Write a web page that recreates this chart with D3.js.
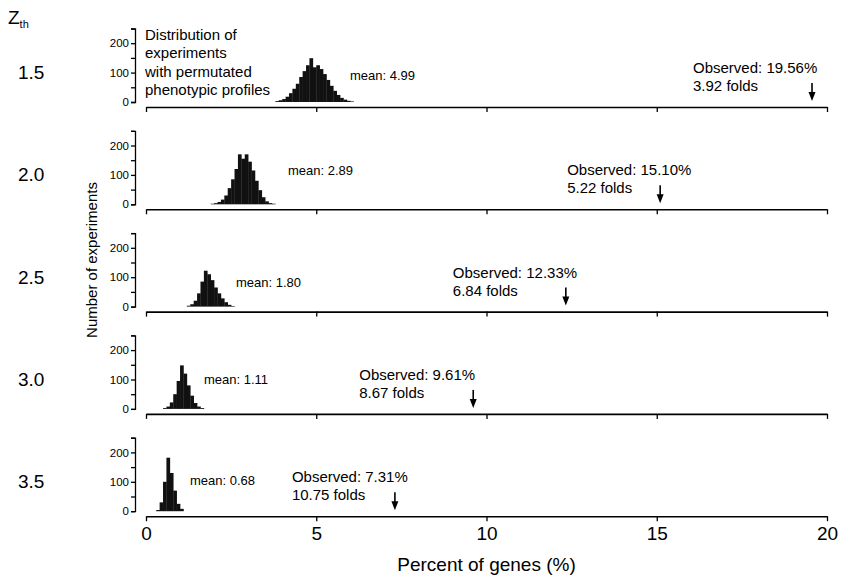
<!DOCTYPE html>
<html>
<head>
<meta charset="utf-8">
<script src="https://cdn.jsdelivr.net/npm/d3@7"></script>
<style>
  body { margin: 0; background: #fff; }
  svg { display: block; font-family: "Liberation Sans", Arial, Helvetica, sans-serif; }
  .axis path, .axis line { stroke: #000; stroke-width: 1.3px; }
  .axis text { fill: #000; }
</style>
</head>
<body>
<div id="chart"><svg></svg></div>
<script>
// data
const zth = ["1.5", "2.0", "2.5", "3.0", "3.5"];
const means = [4.99, 2.89, 1.8, 1.11, 0.68];
const observed = [19.56, 15.1, 12.33, 9.61, 7.31];
const folds = [3.92, 5.22, 6.84, 8.67, 10.75];
const binStart = [3.8, 1.9, 1.2, 0.5, 0.3];
const binWidth = 0.1;
const counts = [
  [3, 6, 10, 18, 30, 45, 62, 85, 105, 125, 149, 118, 125, 112, 95, 75, 55, 38, 24, 14, 8, 4, 2],
  [2, 4, 8, 16, 30, 55, 85, 120, 170, 155, 170, 145, 115, 80, 48, 24, 10, 4, 2],
  [3, 8, 20, 45, 85, 122, 110, 90, 65, 45, 28, 15, 6, 2],
  [3, 8, 22, 50, 95, 148, 120, 80, 45, 20, 8, 3],
  [4, 30, 100, 182, 130, 70, 25, 8]
];
const xTicks = [0, 5, 10, 15, 20];
const yTicks = [0, 50, 100, 150, 200, 250];
const yLabelTicks = [0, 100, 200];

// layout
const width = 841, height = 581;
const panelY0 = (i) => 102 + i * 102.3; // pixel of count 0
const panelH = 73.5;
const meanLabel = [[350, -22], [288, -29], [236, -20], [204, -25], [190, -26]];
const obsDx = [-119, -93, -113, -114, -103];

const svg = d3.select("#chart svg").attr("width", width).attr("height", height);

const x = d3.scaleLinear().domain([0, 20]).range([146, 827]);

svg.append("text")
  .attr("x", 8).attr("y", 24)
  .style("font-size", "19px")
  .text("Z")
  .append("tspan")
  .attr("dy", 4)
  .style("font-size", "11px")
  .text("th");

zth.forEach((z, i) => {
  const y0 = panelY0(i);
  const y = d3.scaleLinear().domain([0, 250]).range([y0, y0 - panelH]);
  const g = svg.append("g");

  // z label
  g.append("text").attr("x", 18).attr("y", y0 - 23)
    .style("font-size", "19px").text(z);

  // y axis
  g.append("g").attr("class", "axis")
    .attr("transform", "translate(135,0)")
    .call(d3.axisLeft(y).tickValues(yTicks).tickSize(4).tickSizeOuter(4)
      .tickFormat((d) => (yLabelTicks.includes(d) ? d : "")))
    .call((a) => a.selectAll("text").style("font-size", "11.5px").attr("x", -6));

  // x axis
  const xa = g.append("g").attr("class", "axis")
    .attr("transform", `translate(0,${y0 + 5})`)
    .call(d3.axisBottom(x).tickValues(xTicks).tickSize(5).tickSizeOuter(0)
      .tickFormat(i === zth.length - 1 ? d3.format("d") : ""));
  xa.select(".domain").style("stroke-width", "1.6px");
  xa.selectAll("text").style("font-size", "19px").attr("y", 10);

  // histogram
  const bins = counts[i].map((c, k) => ({ x0: binStart[i] + k * binWidth, c }));
  g.selectAll("rect.bar").data(bins).enter().append("rect")
    .attr("class", "bar")
    .attr("x", (d) => x(d.x0))
    .attr("width", (d) => x(d.x0 + binWidth) - x(d.x0) + 0.3)
    .attr("y", (d) => y(d.c))
    .attr("height", (d) => y0 - y(d.c))
    .attr("fill", "#111");

  // mean label
  g.append("text").attr("x", meanLabel[i][0]).attr("y", y0 + meanLabel[i][1])
    .style("font-size", "13px").text("mean: " + means[i].toFixed(2));

  // observed arrow
  const ax = x(observed[i]);
  g.append("line").attr("x1", ax).attr("x2", ax)
    .attr("y1", y0 - 19).attr("y2", y0 - 8)
    .attr("stroke", "#000").attr("stroke-width", 1.6);
  g.append("path")
    .attr("d", `M${ax - 3.5},${y0 - 10}L${ax + 3.5},${y0 - 10}L${ax},${y0 - 1}Z`)
    .attr("fill", "#000");

  const ot = g.append("text").style("font-size", "15px");
  ot.append("tspan").attr("x", ax + obsDx[i]).attr("y", y0 - 29)
    .text("Observed: " + observed[i].toFixed(2) + "%");
  ot.append("tspan").attr("x", ax + obsDx[i]).attr("y", y0 - 11)
    .text(folds[i].toFixed(2) + " folds");
});

// description in first panel
const desc = ["Distribution of", "experiments", "with permutated", "phenotypic profiles"];
svg.append("g").selectAll("text").data(desc).enter().append("text")
  .attr("x", 145)
  .attr("y", (d, k) => 40 + k * 18.3)
  .style("font-size", "15px")
  .text((d) => d);

// axis titles
svg.append("text")
  .attr("transform", "translate(97,260) rotate(-90)")
  .style("text-anchor", "middle")
  .style("font-size", "15px")
  .text("Number of experiments");

svg.append("text")
  .attr("x", x(10)).attr("y", 571)
  .style("text-anchor", "middle")
  .style("font-size", "19px")
  .text("Percent of genes (%)");
</script>
</body>
</html>
